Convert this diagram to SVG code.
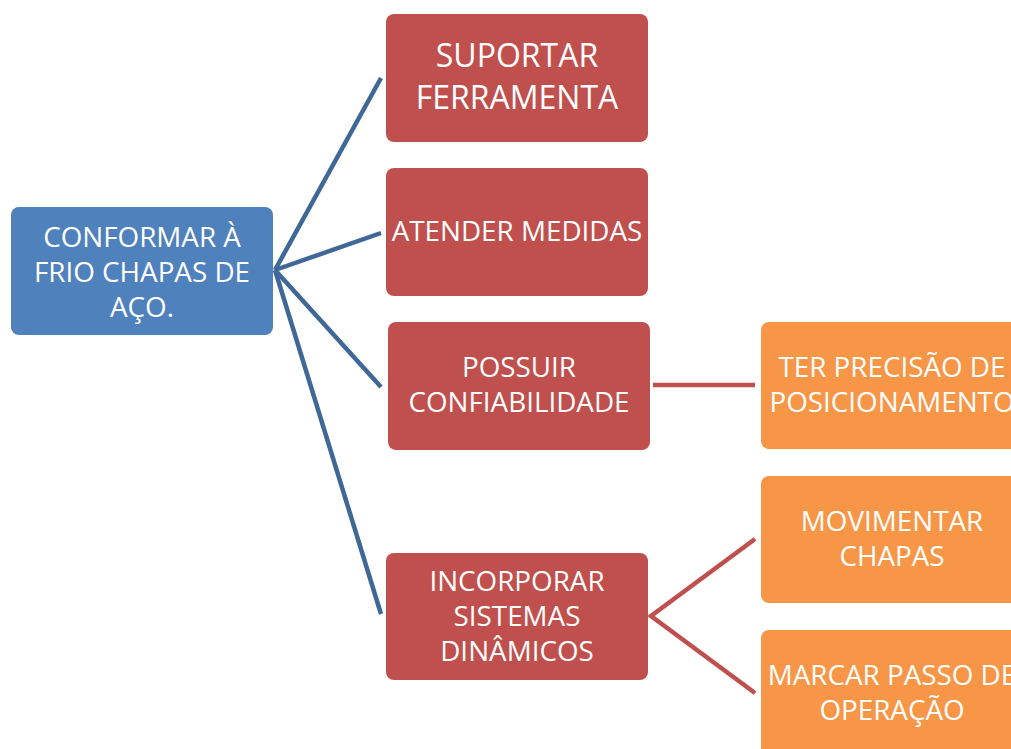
<svg xmlns="http://www.w3.org/2000/svg" width="1011" height="749" viewBox="0 0 1011 749">
<style>
.t{font-family:"Open Sans","Noto Sans","Liberation Sans",sans-serif;fill:#fff;text-anchor:middle;font-size:27.8px}
.big{font-size:32px}
.blue{fill:#4F81BD}
.red{fill:#C0504D}
.orange{fill:#F79646}
.cb{stroke:#3F6797;stroke-width:4.5;fill:none}
.cr{stroke:#C0504D;stroke-width:4.5;fill:none}
</style>
<rect width="1011" height="749" fill="#fff"/>
<g id="connectors">
<line class="cb" x1="275" y1="270" x2="381" y2="78"/>
<line class="cb" x1="275" y1="270" x2="381" y2="233"/>
<line class="cb" x1="275" y1="270" x2="381" y2="387"/>
<line class="cb" x1="275" y1="270" x2="381" y2="614"/>
<line class="cr" x1="653" y1="385" x2="755" y2="385"/>
<polyline class="cr" points="755,539 651,616 755,693"/>
</g>
<g id="n0"><rect class="blue" x="11" y="207" width="262" height="128" rx="8"/>
<text class="t" x="142" y="247">CONFORMAR À</text><text class="t" x="142" y="282">FRIO CHAPAS DE</text><text class="t" x="142" y="317">AÇO.</text></g>
<g id="n1"><rect class="red" x="386" y="14" width="262" height="128" rx="8"/>
<text class="t big" x="517" y="67">SUPORTAR</text><text class="t big" x="517" y="109">FERRAMENTA</text></g>
<g id="n2"><rect class="red" x="386" y="168" width="262" height="128" rx="8"/>
<text class="t" x="517" y="241">ATENDER MEDIDAS</text></g>
<g id="n3"><rect class="red" x="388" y="322" width="262" height="128" rx="8"/>
<text class="t" x="519" y="377">POSSUIR</text><text class="t" x="519" y="412">CONFIABILIDADE</text></g>
<g id="n4"><rect class="red" x="386" y="553" width="262" height="127" rx="8"/>
<text class="t" x="517" y="591">INCORPORAR</text><text class="t" x="517" y="626">SISTEMAS</text><text class="t" x="517" y="661">DINÂMICOS</text></g>
<g id="n5"><rect class="orange" x="761" y="322" width="262" height="127" rx="8"/>
<text class="t" x="892" y="377">TER PRECISÃO DE</text><text class="t" x="892" y="412">POSICIONAMENTO</text></g>
<g id="n6"><rect class="orange" x="761" y="476" width="262" height="127" rx="8"/>
<text class="t" x="892" y="531">MOVIMENTAR</text><text class="t" x="892" y="566">CHAPAS</text></g>
<g id="n7"><rect class="orange" x="761" y="630" width="262" height="127" rx="8"/>
<text class="t" x="892" y="685">MARCAR PASSO DE</text><text class="t" x="892" y="720">OPERAÇÃO</text></g>
</svg>
